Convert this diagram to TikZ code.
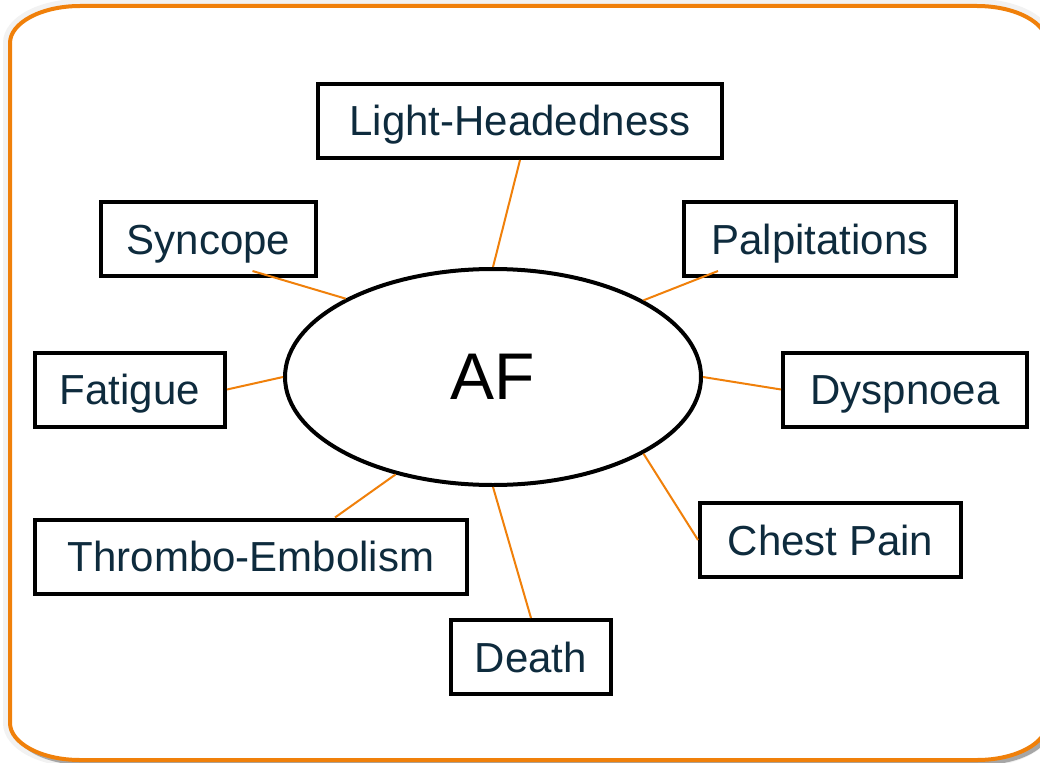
\documentclass[tikz,border=0pt]{standalone}
\usepackage{fontspec}
\setmainfont{Liberation Sans}
\usetikzlibrary{shapes.geometric}
\definecolor{frameorange}{RGB}{240,128,10}
\definecolor{textnavy}{RGB}{14,43,61}
\tikzset{symptom/.style={draw=black,line width=4pt,text=textnavy,font=\fontsize{42}{48}\selectfont,inner sep=0pt,text height=30pt,text depth=0pt,minimum height=74pt}}
\newcommand{\framepath}{(10,43) .. controls (10,23) and (41,6) .. (80,6) -- (977,6) .. controls (1016,6) and (1047,23) .. (1047,43) -- (1047,723) .. controls (1047,743) and (1016,760) .. (977,760) -- (80,760) .. controls (41,760) and (10,743) .. (10,723) -- cycle}

\begin{document}
\begin{tikzpicture}[x=1pt,y=-1pt,link/.style={draw=frameorange,line width=2pt}]
  \useasboundingbox (0,0) rectangle (1040,762);
  \clip (0,0) rectangle (1040,762);
  % frame with shadow
  \draw[black!5,line width=14pt] \framepath;
  \fill[black!35,shift={(4,5)}] \framepath;
  \draw[frameorange,fill=white,line width=4pt] \framepath;

  \node[ellipse,draw,line width=4pt,minimum width=416pt,minimum height=216pt,inner sep=0pt,font=\fontsize{66}{72}\selectfont] (af) at (493,377) {AF};
  \node[symptom,minimum width=404pt] (lh)  at (520,121)   {Light-Headedness};
  \node[symptom,minimum width=215pt] (syn) at (208.5,239) {Syncope};
  \node[symptom,minimum width=272pt] (pal) at (820,239)   {Palpitations};
  \node[symptom,minimum width=190pt] (fat) at (130,389.5) {Fatigue};
  \node[symptom,minimum width=244pt] (dys) at (905,389.5) {Dyspnoea};
  \node[symptom,minimum width=432pt] (thr) at (251,556.5) {Thrombo-Embolism};
  \node[symptom,minimum width=261pt] (cp)  at (830.5,540) {Chest Pain};
  \node[symptom,minimum width=160pt] (dea) at (531,657)   {Death};

  \path[link] (af.north) edge (lh.south)
              (af.152.2) edge ([xshift=44pt,yshift=7pt]syn.south)
              (af.27.5) edge ([xshift=-102pt,yshift=7pt]pal.south)
              (af.west) edge (fat.east)
              (af.east) edge (dys.west)
              (af.-27.6) edge (cp.west)
              (af.south) edge (dea.north)
              (af.225) edge ([xshift=84pt]thr.north);
\end{tikzpicture}
\end{document}
